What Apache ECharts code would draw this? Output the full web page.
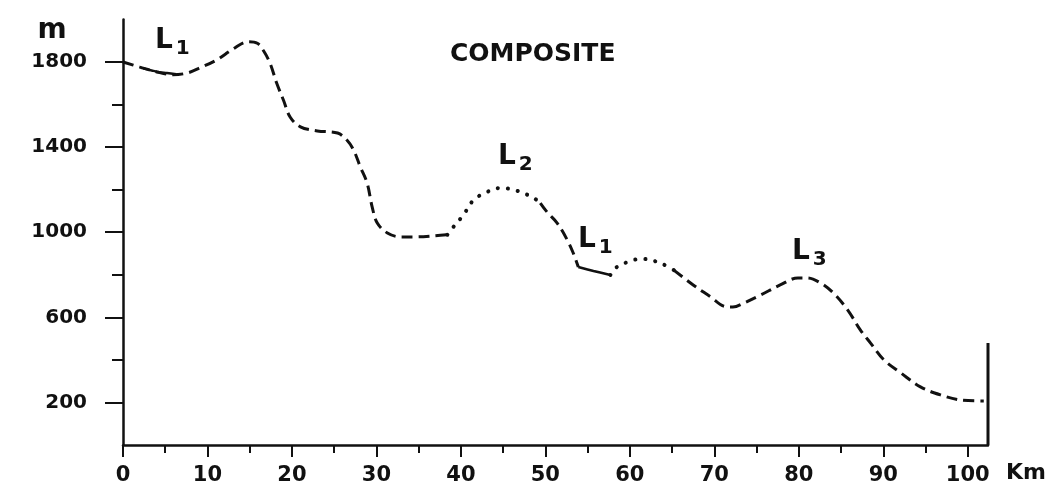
<!DOCTYPE html>
<html>
<head>
<meta charset="utf-8">
<title>Composite profile</title>
<script src="https://cdn.jsdelivr.net/npm/echarts@6/dist/echarts.min.js"></script>
<style>
    html, body { margin: 0; padding: 0; background: #fff; }
    #chart { width: 1056px; height: 496px; }
</style>
</head>
<body>
<div id="chart"></div>
<script>
// axis ticks
var kmMajor = [0, 10, 20, 30, 40, 50, 60, 70, 80, 90, 100];
var kmMinor = [5, 15, 25, 35, 45, 55, 65, 75, 85, 95];
var mMajor = [200, 600, 1000, 1400, 1800];
var mMinor = [400, 800, 1200, 1600];

// profile pieces [km, m], by line style
var dashedWest = [[0, 1800], [2, 1776], [4, 1753], [5.9, 1740], [7.6, 1748], [9.1, 1772], [11.1, 1810],
    [13, 1860], [14.8, 1895], [15.9, 1888], [16.6, 1855], [17.4, 1795], [18.2, 1700], [19, 1620],
    [19.8, 1540], [21, 1495], [23, 1476], [25.4, 1466], [26.5, 1433], [27.3, 1386], [28.1, 1306],
    [28.9, 1231], [29.5, 1118], [30.1, 1043], [31.3, 996], [32.8, 978], [34.8, 978], [36.7, 982], [38.4, 988]];
var dottedL2 = [[38.4, 988], [39.1, 1024], [40.3, 1081], [41.5, 1151], [43.1, 1189], [44.7, 1208],
    [46.7, 1194], [48.6, 1161], [49.4, 1137]];
var dashedMid = [[49.4, 1137], [50.2, 1095], [51.4, 1043], [52.6, 963], [53.3, 902], [53.9, 836]];
var solidL1a = [[2.4, 1770], [3.4, 1760], [4.3, 1752], [5.2, 1748], [6.3, 1742]];
var solidL1b = [[53.9, 836], [55.7, 818], [57.7, 799]];
var dottedMid = [[57.7, 799], [58.3, 832], [60.4, 869], [61.6, 874], [63.6, 855], [65.2, 822]];
var dashedEast = [[65.2, 822], [67.5, 752], [69.6, 695], [71.1, 653], [72.2, 648], [73.5, 667], [75.5, 705],
    [77.8, 752], [79.9, 785], [81, 785], [82.6, 761], [84.1, 714], [85.8, 634], [87.3, 540], [88.5, 479],
    [90.1, 399], [92.1, 338], [94.4, 273], [96.8, 235], [99.2, 211], [101.9, 207]];
var endWall = [[102.4, 0], [102.4, 479]];

var ink = '#111';
var font = 'DejaVu Sans';

function profile(name, data, dash, width, cap) {
    return {
        name: name,
        type: 'line',
        data: data,
        smooth: 0.35,
        showSymbol: false,
        silent: true,
        lineStyle: {color: ink, width: width, type: dash, cap: cap || 'butt'}
    };
}

// L with a lowered index
function lbl(sub) {
    return {
        text: '{a|L}{b|' + sub + '}',
        fill: ink,
        textAlign: 'left',
        textVerticalAlign: 'top',
        rich: {
            a: {fontFamily: font, fontSize: 28, fontWeight: 'bold', fill: ink, lineHeight: 26},
            b: {fontFamily: font, fontSize: 20, fontWeight: 'bold', fill: ink, lineHeight: 20, padding: [16, 0, 0, 3]}
        }
    };
}

var chart = echarts.init(document.getElementById('chart'));

chart.setOption({
    animation: false,
    backgroundColor: '#fff',
    title: {
        text: 'COMPOSITE',
        left: 450,
        top: 42,
        padding: 0,
        textStyle: {fontFamily: font, fontSize: 25, fontWeight: 'bold', color: ink}
    },
    grid: {left: 123, right: 68, top: 19.4, bottom: 51, outerBoundsMode: 'none'},
    xAxis: [{
        type: 'value', min: 0, max: 102.4,
        axisLine: {lineStyle: {color: ink, width: 2.5}},
        axisTick: {length: 8, lineStyle: {color: ink, width: 2}, customValues: kmMinor},
        axisLabel: {show: false},
        splitLine: {show: false}
    }, {
        type: 'value', min: 0, max: 102.4, position: 'bottom',
        axisLine: {show: false},
        axisTick: {length: 12, lineStyle: {color: ink, width: 2}, customValues: kmMajor},
        axisLabel: {
            customValues: kmMajor, margin: 20, fontFamily: font, fontSize: 21, fontWeight: 'bold', color: ink,
            formatter: function (v) { return String(v); }
        },
        splitLine: {show: false}
    }],
    yAxis: [{
        type: 'value', min: 0, max: 2000,
        axisLine: {show: true, lineStyle: {color: ink, width: 2.5}},
        axisTick: {show: true, length: 11, lineStyle: {color: ink, width: 2}, customValues: mMinor},
        axisLabel: {show: false},
        splitLine: {show: false}
    }, {
        type: 'value', min: 0, max: 2000, position: 'left',
        axisLine: {show: false},
        axisTick: {show: true, length: 18, lineStyle: {color: ink, width: 2}, customValues: mMajor},
        axisLabel: {
            customValues: mMajor, margin: 36, fontFamily: font, fontSize: 20, fontWeight: 'bold', color: ink,
            formatter: function (v) { return String(v); }
        },
        splitLine: {show: false}
    }],
    graphic: [
        {type: 'text', x: 52, y: 31, style: {text: 'm', fill: ink, font: 'bold 28px "DejaVu Sans"', textAlign: 'center', textVerticalAlign: 'middle'}},
        {type: 'text', x: 1006, y: 473, style: {text: 'Km', fill: ink, font: 'bold 22px "DejaVu Sans"', textAlign: 'left', textVerticalAlign: 'middle'}},
        {type: 'text', x: 155, y: 28, style: lbl('1')},
        {type: 'text', x: 498, y: 144, style: lbl('2')},
        {type: 'text', x: 578, y: 227, style: lbl('1')},
        {type: 'text', x: 792, y: 239, style: lbl('3')}
    ],
    series: [
        profile('dashed west', dashedWest, [11, 6], 3),
        profile('L1 west', solidL1a, 'solid', 2.4),
        profile('L2', dottedL2, [0.1, 10], 4, 'round'),
        profile('dashed mid', dashedMid, [11, 6], 3),
        profile('L1 mid', solidL1b, 'solid', 2.6),
        profile('dotted mid', dottedMid, [0.1, 10], 4, 'round'),
        profile('L3', dashedEast, [11, 6], 3),
        profile('end', endWall, 'solid', 3)
    ]
});
</script>
</body>
</html>
